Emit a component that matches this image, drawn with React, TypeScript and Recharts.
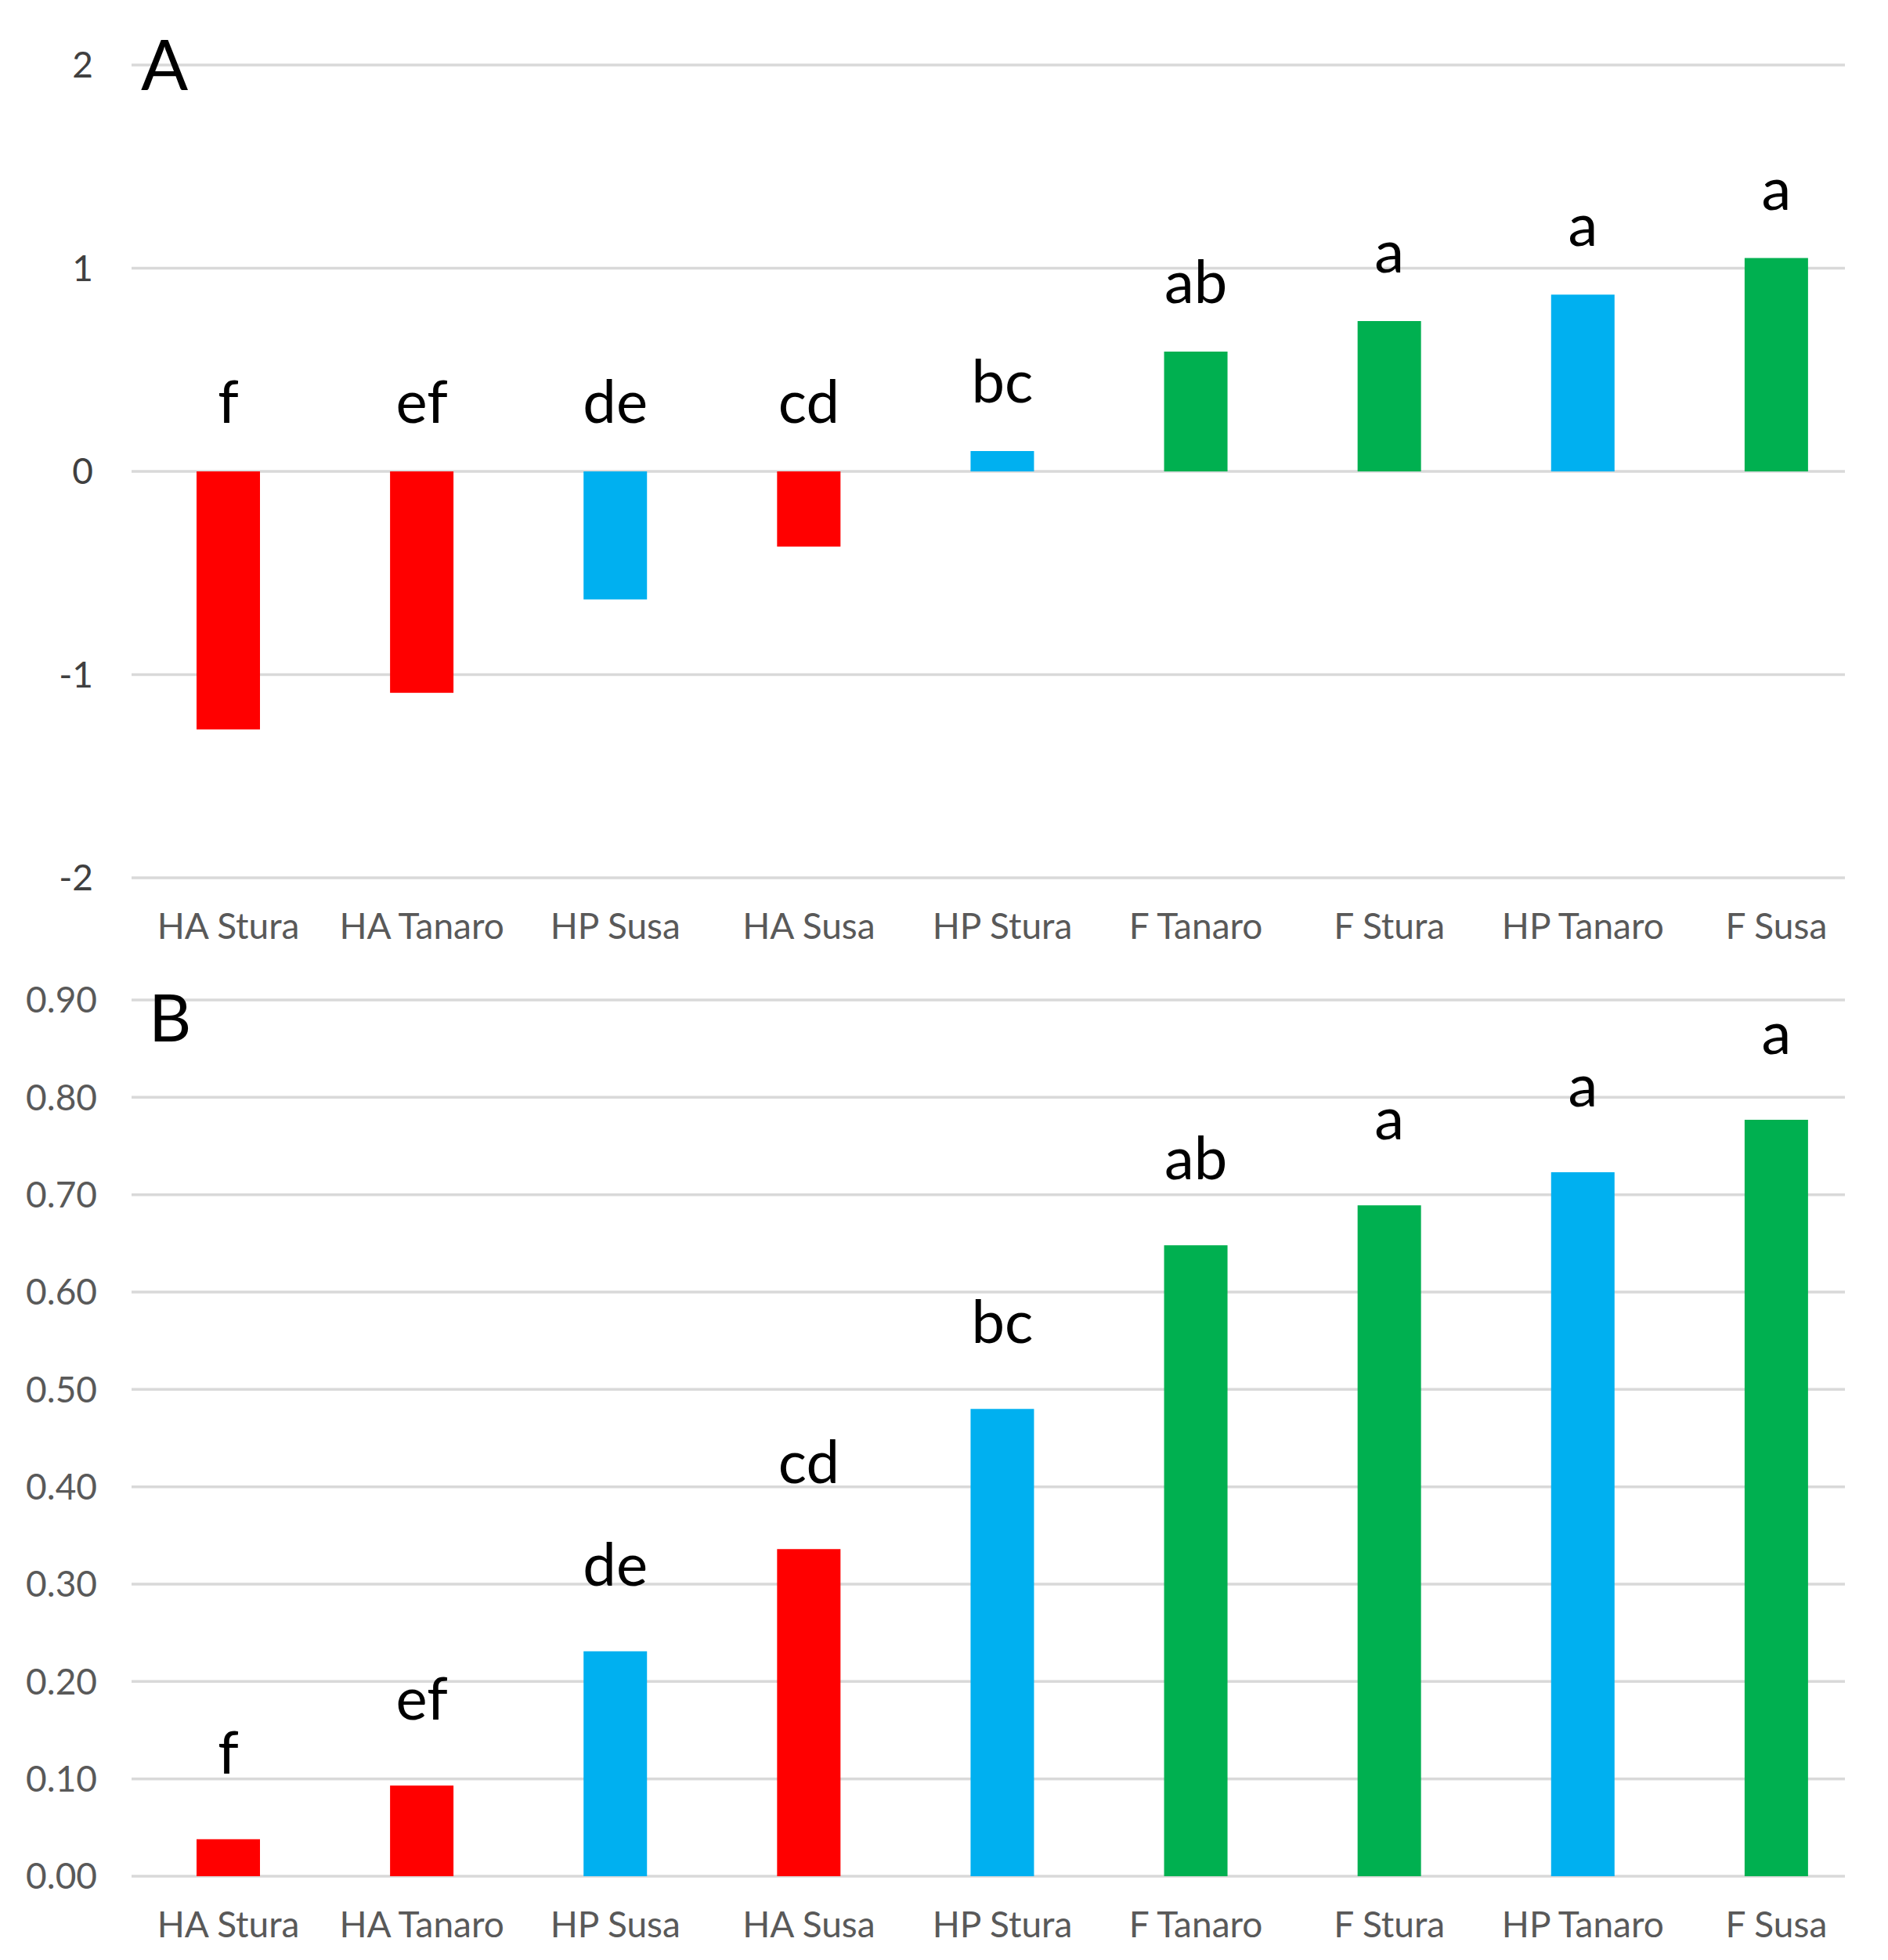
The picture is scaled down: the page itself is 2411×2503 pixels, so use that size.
import { BarChart, Bar, XAxis, YAxis, CartesianGrid, Cell, LabelList } from 'recharts';

const categories = ['HA Stura', 'HA Tanaro', 'HP Susa', 'HA Susa', 'HP Stura', 'F Tanaro', 'F Stura', 'HP Tanaro', 'F Susa'];
const groupColors = ['#ff0000', '#ff0000', '#00b0f0', '#ff0000', '#00b0f0', '#00b050', '#00b050', '#00b0f0', '#00b050'];
const letters = ['f', 'ef', 'de', 'cd', 'bc', 'ab', 'a', 'a', 'a'];

const valuesA = [-1.27, -1.09, -0.63, -0.37, 0.1, 0.59, 0.74, 0.87, 1.05];
const valuesB = [0.038, 0.093, 0.231, 0.336, 0.48, 0.648, 0.689, 0.723, 0.777];

const ticksA = [-2, -1, 0, 1, 2];
const ticksB = [0, 0.1, 0.2, 0.3, 0.4, 0.5, 0.6, 0.7, 0.8, 0.9];

const dataA = categories.map((name, i) => ({ name, value: valuesA[i], letter: letters[i] }));
const dataB = categories.map((name, i) => ({ name, value: valuesB[i], letter: letters[i] }));

const FONT = 'Lato, "Open Sans", sans-serif';

// excel gridlines stop a little short of the last category band
const gridLine = (props: any) => (
  <line
    key={`g-${props.index}-${props.y1}`}
    x1={props.x1}
    x2={props.x2 - 36}
    y1={props.y1}
    y2={props.y2}
    stroke="#d9d9d9"
    strokeWidth={3.5}
  />
);

const XTick = (props: any) => (
  <text
    x={props.x}
    y={props.y + 78}
    textAnchor="middle"
    fontFamily={FONT}
    fontSize={46}
    fill="#595959"
  >
    {props.payload.value}
  </text>
);

const makeLetter = (gap: number) => (props: any) => {
  const { x, y, width, height, value } = props;
  const top = Math.min(y, y + height);
  return (
    <text
      x={x + width / 2}
      y={top - gap}
      textAnchor="middle"
      fontFamily={FONT}
      fontSize={76}
      fill="#000"
    >
      {value}
    </text>
  );
};

function Panel({ data, domain, ticks, fmt, height, top, bottom, tickMargin, tickColor, gap }: any) {
  return (
    <BarChart
      width={2411}
      height={height}
      data={data}
      margin={{ top, right: 19, left: 0, bottom: 0 }}
    >
      <CartesianGrid vertical={false} horizontal={gridLine} />
      <XAxis
        dataKey="name"
        axisLine={false}
        tickLine={false}
        tickSize={0}
        tickMargin={0}
        height={bottom}
        interval={0}
        tick={<XTick />}
      />
      <YAxis
        domain={domain}
        ticks={ticks}
        axisLine={false}
        tickLine={false}
        tickSize={0}
        tickMargin={tickMargin}
        width={168}
        tickFormatter={fmt}
        tick={{ fontFamily: FONT, fontSize: 46, fill: tickColor }}
      />
      <Bar dataKey="value" barSize={81} isAnimationActive={false}>
        {data.map((_: any, i: number) => (
          <Cell key={`c-${i}`} fill={groupColors[i]} />
        ))}
        <LabelList dataKey="letter" content={makeLetter(gap)} />
      </Bar>
    </BarChart>
  );
}

export default function App() {
  return (
    <div style={{ width: 2411, height: 2503, position: 'relative', background: '#fff' }}>
      <style>{'body{margin:0;background:#fff}'}</style>
      <div style={{ position: 'absolute', left: 0, top: 0 }}>
        <Panel
          data={dataA}
          domain={[-2, 2]}
          ticks={ticksA}
          fmt={(v: number) => String(v)}
          height={1225}
          top={83}
          bottom={104}
          tickMargin={49}
          tickColor="#404040"
          gap={62}
        />
      </div>
      <div style={{ position: 'absolute', left: 0, top: 1225 }}>
        <Panel
          data={dataB}
          domain={[0, 0.9]}
          ticks={ticksB}
          fmt={(v: number) => v.toFixed(2)}
          height={1278}
          top={52}
          bottom={107}
          tickMargin={44}
          tickColor="#595959"
          gap={84}
        />
      </div>
      <svg width={2411} height={2503} style={{ position: 'absolute', left: 0, top: 0, pointerEvents: 'none' }}>
        <text x={180} y={115} fontFamily={FONT} fontSize={89} fill="#000">A</text>
        <text x={190} y={1330} fontFamily={FONT} fontSize={84} fill="#000">B</text>
      </svg>
    </div>
  );
}
